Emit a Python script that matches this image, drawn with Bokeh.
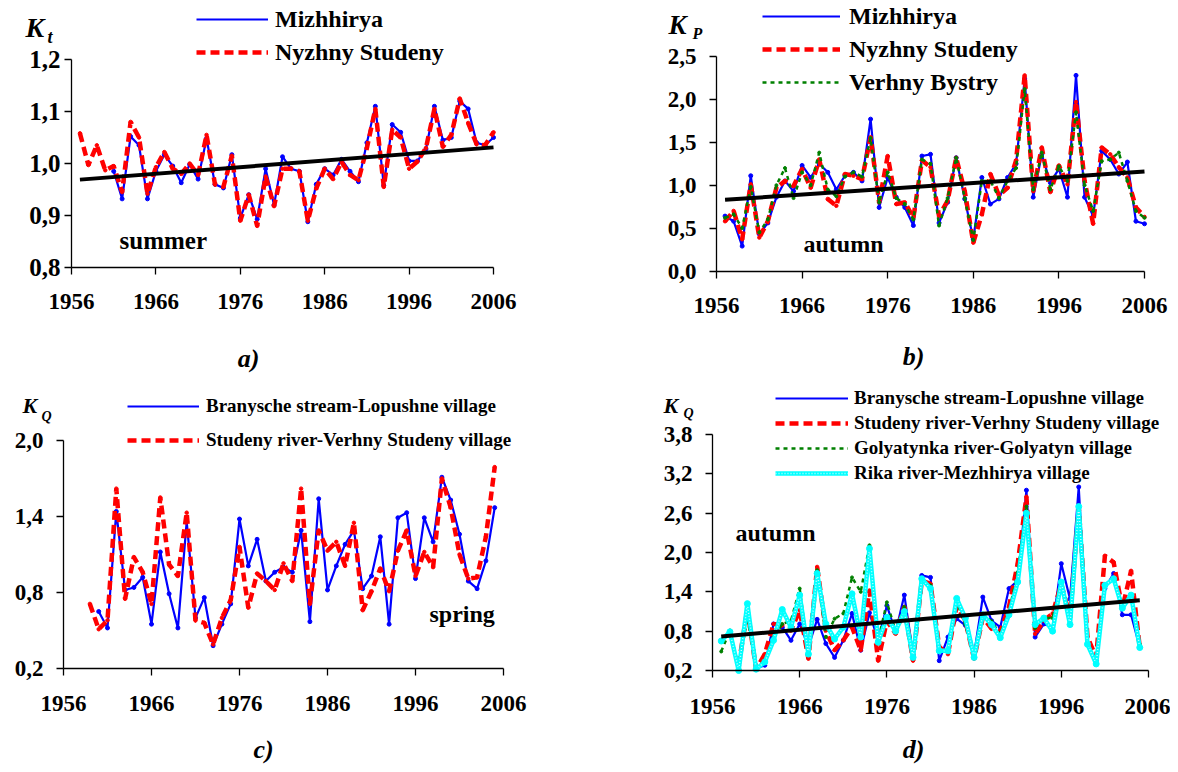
from bokeh.plotting import figure
from bokeh.models import FixedTicker, Legend, LegendItem, Label, Range1d
from bokeh.layouts import column, row
from bokeh.embed import file_html
from bokeh.resources import INLINE

FONT = "Liberation Serif"

x_ticks = [1956, 1966, 1976, 1986, 1996, 2006]
x_tick_labels = ["1956", "1966", "1976", "1986", "1996", "2006"]

# ---------------- panel a (summer, K_t) ----------------
a_ns_years = list(range(1957, 2007))
a_ns = [1.058, 0.997, 1.035, 0.987, 0.995, 0.945, 1.080, 1.050, 0.942, 0.993,
        1.022, 0.990, 0.980, 1.000, 0.978, 1.055, 0.960, 0.955, 1.015, 0.890,
        0.940, 0.880, 0.975, 0.918, 0.990, 0.990, 0.985, 0.890, 0.952, 0.990,
        0.970, 1.003, 0.978, 0.968, 1.030, 1.105, 0.955, 1.065, 1.050, 0.990,
        1.004, 1.030, 1.105, 1.032, 1.055, 1.125, 1.078, 1.037, 1.035, 1.060]
a_mz_years = list(range(1961, 2007))
a_mz = [0.985, 0.932, 1.052, 1.035, 0.932, 0.985, 1.017, 0.995, 0.963, 0.998,
        0.970, 1.048, 0.960, 0.953, 1.017, 0.895, 0.940, 0.893, 0.990, 0.920,
        1.013, 0.990, 0.985, 0.888, 0.960, 0.990, 0.978, 1.008, 0.985, 0.965,
        1.040, 1.110, 0.958, 1.075, 1.060, 1.005, 1.005, 1.028, 1.110, 1.045,
        1.050, 1.120, 1.105, 1.040, 1.035, 1.050]
a_trend_years = [1957, 2006]
a_trend = [0.969, 1.031]
a_yticks = [0.8, 0.9, 1.0, 1.1, 1.2]
a_ylabels = ["0,8", "0,9", "1,0", "1,1", "1,2"]

# ---------------- panel b (autumn, K_P) ----------------
b_years = list(range(1957, 2007))
b_mz = [0.64, 0.58, 0.29, 1.11, 0.43, 0.56, 0.86, 1.05, 0.93, 1.23,
        1.09, 1.25, 1.15, 0.95, 1.11, 1.15, 1.05, 1.77, 0.74, 1.09,
        0.86, 0.74, 0.53, 1.34, 1.36, 0.56, 0.80, 1.32, 0.84, 0.37,
        1.09, 0.78, 0.84, 1.09, 1.25, 2.24, 0.86, 1.36, 1.03, 1.19,
        0.86, 2.28, 0.86, 0.64, 1.40, 1.30, 1.13, 1.27, 0.58, 0.55]
b_ns = [0.58, 0.70, 0.37, 1.01, 0.39, 0.58, 0.97, 1.05, 0.99, 1.19,
        0.97, 1.30, 0.84, 0.76, 1.13, 1.11, 1.07, 1.56, 0.80, 1.34,
        0.78, 0.80, 0.62, 1.29, 1.21, 0.64, 0.82, 1.32, 0.93, 0.33,
        0.66, 1.13, 0.88, 0.97, 1.29, 2.28, 0.93, 1.44, 0.92, 1.23,
        1.01, 1.97, 1.05, 0.55, 1.44, 1.36, 1.21, 1.09, 0.74, 0.63]
b_vb = [0.62, 0.66, 0.50, 0.98, 0.45, 0.60, 1.00, 1.20, 0.85, 1.15,
        1.00, 1.38, 0.95, 0.87, 1.10, 1.15, 1.10, 1.55, 0.80, 1.15,
        0.85, 0.78, 0.60, 1.30, 1.25, 0.53, 0.85, 1.32, 0.85, 0.36,
        1.05, 1.05, 0.85, 1.05, 1.20, 2.12, 0.95, 1.38, 0.95, 1.22,
        1.05, 1.85, 1.00, 0.70, 1.28, 1.30, 1.38, 1.05, 0.70, 0.62]
b_trend_years = [1957, 2006]
b_trend = [0.83, 1.16]
b_yticks = [0.0, 0.5, 1.0, 1.5, 2.0, 2.5]
b_ylabels = ["0,0", "0,5", "1,0", "1,5", "2,0", "2,5"]

# ---------------- panel c (spring, K_Q) ----------------
c_br_years = list(range(1960, 2006))
c_br = [0.65, 0.52, 1.44, 0.82, 0.84, 0.92, 0.55, 1.12, 0.79, 0.52,
        1.36, 0.60, 0.76, 0.38, 0.55, 0.71, 1.38, 1.01, 1.22, 0.89,
        0.96, 1.00, 0.96, 1.29, 0.57, 1.54, 0.82, 1.01, 1.18, 1.29,
        0.83, 0.93, 1.24, 0.55, 1.39, 1.43, 0.91, 1.39, 1.20, 1.71,
        1.53, 1.26, 0.89, 0.83, 1.05, 1.47]
c_st_years = list(range(1959, 2006))
c_st = [0.71, 0.51, 0.58, 1.62, 0.75, 1.08, 0.96, 0.71, 1.55, 1.02,
        0.93, 1.43, 0.58, 0.56, 0.39, 0.60, 0.74, 1.16, 0.68, 0.95,
        0.89, 0.82, 1.03, 0.89, 1.62, 0.71, 1.29, 1.13, 1.20, 1.01,
        1.35, 0.66, 0.81, 0.99, 0.81, 1.13, 1.29, 0.93, 1.12, 1.00,
        1.70, 1.47, 1.10, 0.91, 0.92, 1.24, 1.79]
c_yticks = [0.2, 0.8, 1.4, 2.0]
c_ylabels = ["0,2", "0,8", "1,4", "2,0"]

# ---------------- panel d (autumn, K_Q) ----------------
d_br_years = list(range(1959, 2006))
d_br = [0.28, 1.14, 0.23, 0.28, 0.91, 0.86, 0.66, 0.91, 0.56, 0.98,
        0.61, 0.40, 0.66, 1.07, 0.51, 1.08, 0.66, 1.19, 0.78, 1.35,
        0.45, 1.65, 1.62, 0.35, 0.71, 0.99, 0.89, 0.45, 1.32, 0.96,
        0.86, 1.45, 1.57, 2.95, 0.71, 0.91, 0.86, 1.83, 1.29, 3.00,
        0.60, 0.35, 1.45, 1.68, 1.05, 1.05, 0.55]
d_st_years = list(range(1959, 2006))
d_st = [0.28, 1.14, 0.22, 0.45, 0.91, 0.89, 0.81, 1.12, 0.38, 1.78,
        0.81, 0.51, 0.66, 0.86, 0.51, 1.42, 0.35, 0.96, 0.76, 1.17,
        0.35, 1.57, 1.52, 0.56, 0.45, 1.19, 0.96, 0.38, 1.01, 0.84,
        0.79, 1.17, 1.83, 2.85, 0.76, 0.96, 1.07, 1.52, 1.01, 2.69,
        0.71, 0.40, 1.95, 1.85, 1.15, 1.72, 0.55]
d_go_years = list(range(1957, 2006))
d_go = [0.49, 0.81, 0.25, 1.01, 0.25, 0.35, 0.71, 0.91, 0.96, 1.45,
        0.45, 1.73, 0.71, 0.99, 1.07, 1.62, 1.40, 2.11, 0.66, 1.24,
        0.80, 1.17, 0.45, 1.55, 1.50, 0.50, 0.50, 1.25, 0.90, 0.40,
        1.05, 0.95, 0.75, 1.10, 1.70, 2.70, 0.85, 1.00, 1.00, 1.55,
        1.00, 2.60, 0.60, 0.35, 1.50, 1.60, 1.20, 1.35, 0.60]
d_ri_years = list(range(1957, 2006))
d_ri = [0.65, 0.79, 0.20, 1.22, 0.22, 0.33, 0.66, 1.13, 0.86, 1.35,
        0.45, 1.68, 0.91, 0.68, 0.86, 1.37, 0.71, 2.06, 0.63, 1.01,
        0.80, 1.10, 0.40, 1.60, 1.45, 0.50, 0.50, 1.30, 1.00, 0.40,
        1.05, 0.90, 0.70, 1.05, 1.55, 2.60, 0.90, 1.00, 0.80, 1.55,
        0.90, 2.70, 0.60, 0.30, 1.50, 1.60, 1.15, 1.35, 0.55]
d_trend_years = [1957, 2005]
d_trend = [0.72, 1.27]
d_yticks = [0.2, 0.8, 1.4, 2.0, 2.6, 3.2, 3.8]
d_ylabels = ["0,2", "0,8", "1,4", "2,0", "2,6", "3,2", "3,8"]

# ---------------- layout geometry (page pixels) ----------------
# canvas origin/size and the plotting area (L..R for 1956..2006, T..B for y1..y0)
GA = dict(ox=0, oy=0, w=589, h=386, L=71, R=493, T=59, B=267)
GB = dict(ox=589, oy=0, w=581, h=386, L=716, R=1144, T=56, B=270.5)
GC = dict(ox=0, oy=386, w=589, h=378, L=63, R=503, T=440, B=668)
GD = dict(ox=589, oy=386, w=581, h=378, L=712, R=1148, T=434, B=670)

BLUE, RED, GREEN, CYAN = "#0000FF", "#FF0000", "#008000", "#00FFFF"


def make_panel(g, y0, y1, yticks, ylabels, y_standoff, x_standoff, ylab_size):
    ppx = (g["R"] - g["L"]) / 50.0
    ppy = (g["B"] - g["T"]) / (y1 - y0)
    xs = 1956 - (g["L"] - g["ox"]) / ppx
    xe = 2006 + (g["ox"] + g["w"] - g["R"]) / ppx
    ye = y1 + (g["T"] - g["oy"]) / ppy
    ys = y0 - (g["oy"] + g["h"] - g["B"]) / ppy
    p = figure(width=g["w"], height=g["h"],
               x_range=Range1d(xs, xe), y_range=Range1d(ys, ye),
               min_border=0, output_backend="svg", toolbar_location=None)
    p.outline_line_color = None
    p.xgrid.visible = False
    p.ygrid.visible = False
    p.background_fill_color = "white"
    p.border_fill_color = "white"
    p.xaxis.fixed_location = y0
    p.yaxis.fixed_location = 1956
    p.xaxis.bounds = (1956, 2006)
    p.yaxis.bounds = (y0, y1)
    for ax, ticks, labels, so, fs in ((p.xaxis[0], x_ticks, x_tick_labels, x_standoff, "23px"),
                                      (p.yaxis[0], yticks, ylabels, y_standoff, ylab_size)):
        ax.ticker = FixedTicker(ticks=ticks)
        ax.major_label_overrides = {float(t): l for t, l in zip(ticks, labels)}
        ax.major_tick_out = 7
        ax.major_tick_in = 0
        ax.minor_tick_out = 0
        ax.minor_tick_in = 0
        ax.axis_line_color = "black"
        ax.major_tick_line_color = "black"
        ax.axis_line_width = 1.3
        ax.major_tick_line_width = 1.3
        ax.major_label_text_font = FONT
        ax.major_label_text_font_style = "bold"
        ax.major_label_text_font_size = fs
        ax.major_label_text_color = "black"
        ax.major_label_standoff = so
    return p


def add_text(p, g, y0, y1, px, py, text, size, style="bold", align="left"):
    x = 1956 + (px - g["L"]) / (g["R"] - g["L"]) * 50.0
    y = y1 - (py - g["T"]) / (g["B"] - g["T"]) * (y1 - y0)
    p.add_layout(Label(x=x, y=y, text=text, text_font=FONT, text_font_style=style,
                       text_font_size=size, text_align=align, text_baseline="middle",
                       text_color="black"))


def add_legend(p, g, items, glyph_left, glyph_width, standoff, first_row_center,
               pitch, row_h, font_size):
    n = len(items)
    spacing = int(round(pitch - row_h))
    h = n * row_h + (n - 1) * spacing
    top = first_row_center - row_h / 2.0
    vx = glyph_left - g["ox"]
    vy = (g["oy"] + g["h"]) - (top + h)
    leg = Legend(items=[LegendItem(label=l, renderers=r) for l, r in items],
                 location=(vx, vy), orientation="vertical", padding=0, margin=0,
                 spacing=spacing, glyph_width=glyph_width, glyph_height=row_h,
                 label_height=row_h, label_standoff=standoff,
                 label_text_font=FONT, label_text_font_style="bold",
                 label_text_font_size=font_size, label_text_color="black",
                 border_line_alpha=0, background_fill_alpha=0)
    p.add_layout(leg)


def blue_series(p, xs, ys):
    l = p.line(xs, ys, line_color=BLUE, line_width=2.2)
    p.scatter(xs, ys, size=4, color=BLUE)
    return [l]


def red_series(p, xs, ys):
    l = p.line(xs, ys, line_color=RED, line_width=4.5, line_dash="9 5")
    p.scatter(xs, ys, size=3.5, color=RED)
    return [l]


def green_series(p, xs, ys):
    l = p.line(xs, ys, line_color=GREEN, line_width=2.5, line_dash="4 4")
    p.scatter(xs, ys, size=3, color=GREEN)
    return [l]


def cyan_series(p, xs, ys):
    l = p.line(xs, ys, line_color=CYAN, line_width=4.5)
    d = p.line(xs, ys, line_color="#CCFFFF", line_width=1.4, line_dash="1 2")
    p.scatter(xs, ys, size=6, color=CYAN)
    return [l, d]


# ---------------- panel a ----------------
pa = make_panel(GA, 0.8, 1.2, a_yticks, a_ylabels, 4, 19, "25px")
ra_mz = blue_series(pa, a_mz_years, a_mz)
ra_ns = red_series(pa, a_ns_years, a_ns)
pa.line(a_trend_years, a_trend, line_color="black", line_width=4)
add_legend(pa, GA, [("Mizhhirya", ra_mz), ("Nyzhny Studeny", ra_ns)],
           196, 72, 7, 19, 32.7, 28, "24px")
add_text(pa, GA, 0.8, 1.2, 119, 240, "summer", "25px")
add_text(pa, GA, 0.8, 1.2, 25, 27, "K", "28px", "bold italic")
add_text(pa, GA, 0.8, 1.2, 47, 36, "t", "18px", "bold italic")
add_text(pa, GA, 0.8, 1.2, 248, 358, "a)", "26px", "bold italic", "center")

# ---------------- panel b ----------------
pb = make_panel(GB, 0.0, 2.5, b_yticks, b_ylabels, 13, 20, "23px")
rb_mz = blue_series(pb, b_years, b_mz)
rb_ns = red_series(pb, b_years, b_ns)
rb_vb = green_series(pb, b_years, b_vb)
pb.line(b_trend_years, b_trend, line_color="black", line_width=4)
add_legend(pb, GB, [("Mizhhirya", rb_mz), ("Nyzhny Studeny", rb_ns), ("Verhny Bystry", rb_vb)],
           762, 78, 9, 16, 33, 28, "24px")
add_text(pb, GB, 0.0, 2.5, 803, 243, "autumn", "24px")
add_text(pb, GB, 0.0, 2.5, 668, 24, "K", "27px", "bold italic")
add_text(pb, GB, 0.0, 2.5, 692, 33, "P", "16px", "bold italic")
add_text(pb, GB, 0.0, 2.5, 913, 356, "b)", "26px", "bold italic", "center")

# ---------------- panel c ----------------
pc = make_panel(GC, 0.2, 2.0, c_yticks, c_ylabels, 13, 20, "23px")
rc_br = blue_series(pc, c_br_years, c_br)
rc_st = red_series(pc, c_st_years, c_st)
add_legend(pc, GC, [("Branysche stream-Lopushne village", rc_br),
                    ("Studeny river-Verhny Studeny village", rc_st)],
           127, 72, 7, 405.7, 34.3, 22, "19px")
add_text(pc, GC, 0.2, 2.0, 429, 613, "spring", "24px")
add_text(pc, GC, 0.2, 2.0, 22, 405, "K", "22px", "bold italic")
add_text(pc, GC, 0.2, 2.0, 41, 416, "Q", "14px", "bold italic")
add_text(pc, GC, 0.2, 2.0, 263, 749, "c)", "26px", "bold italic", "center")

# ---------------- panel d ----------------
pd_ = make_panel(GD, 0.2, 3.8, d_yticks, d_ylabels, 13, 21, "23px")
rd_br = blue_series(pd_, d_br_years, d_br)
rd_st = red_series(pd_, d_st_years, d_st)
rd_go = green_series(pd_, d_go_years, d_go)
rd_ri = cyan_series(pd_, d_ri_years, d_ri)
pd_.line(d_trend_years, d_trend, line_color="black", line_width=4)
add_legend(pd_, GD, [("Branysche stream-Lopushne village", rd_br),
                     ("Studeny river-Verhny Studeny village", rd_st),
                     ("Golyatynka river-Golyatyn village", rd_go),
                     ("Rika river-Mezhhirya village", rd_ri)],
           775, 73, 6, 397.7, 24.8, 22, "19px")
add_text(pd_, GD, 0.2, 3.8, 735, 532, "autumn", "24px")
add_text(pd_, GD, 0.2, 3.8, 663, 405, "K", "22px", "bold italic")
add_text(pd_, GD, 0.2, 3.8, 683, 413, "Q", "14px", "bold italic")
add_text(pd_, GD, 0.2, 3.8, 913, 749, "d)", "26px", "bold italic", "center")

layout = column(row(pa, pb), row(pc, pd_))
open("out.html", "w").write(file_html(layout, INLINE))
